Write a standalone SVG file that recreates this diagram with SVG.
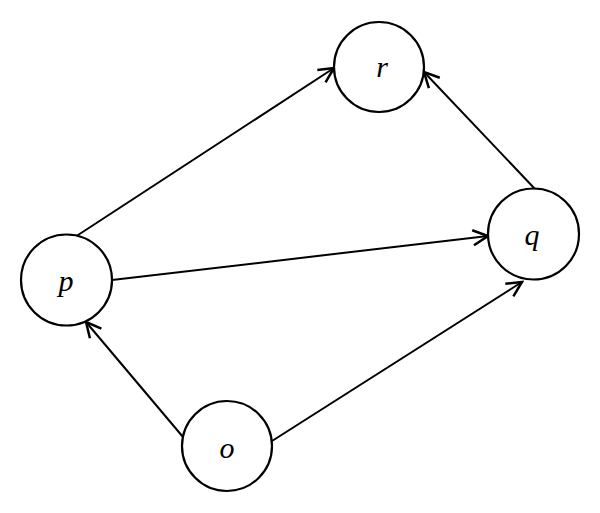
<svg xmlns="http://www.w3.org/2000/svg" width="600" height="513" viewBox="0 0 600 513">
<defs>
<style>
.node circle{fill:#fff;stroke:#000;stroke-width:2.2}
.node text{font-family:"Liberation Serif","DejaVu Serif",serif;font-style:italic;font-size:30px;text-anchor:middle;fill:#000}
.edges line{stroke:#000;stroke-width:2}
</style>
<marker id="arr" markerUnits="userSpaceOnUse" markerWidth="20" markerHeight="20" viewBox="-14 -8 16 16" refX="0" refY="0" orient="auto">
<path d="M-12,-6 L0,0 L-12,6" fill="none" stroke="#000" stroke-width="2"/>
</marker>
</defs>
<rect width="600" height="513" fill="#fff"/>
<g id="edges" class="edges">
<line x1="75" y1="237" x2="334" y2="68" marker-end="url(#arr)"/>
<line x1="112" y1="280" x2="488" y2="236" marker-end="url(#arr)"/>
<line x1="183" y1="437" x2="86" y2="322" marker-end="url(#arr)"/>
<line x1="272" y1="441" x2="522" y2="282" marker-end="url(#arr)"/>
<line x1="535" y1="189" x2="424" y2="72" marker-end="url(#arr)"/>
</g>
<g id="node-r" class="node"><circle cx="379" cy="67" r="45"/><text x="382" y="77">r</text></g>
<g id="node-q" class="node"><circle cx="533.5" cy="234" r="45.5"/><text x="532" y="245">q</text></g>
<g id="node-p" class="node"><circle cx="66.5" cy="280" r="45.5"/><text x="66" y="291">p</text></g>
<g id="node-o" class="node"><circle cx="227" cy="446" r="45"/><text x="227" y="458">o</text></g>
</svg>
